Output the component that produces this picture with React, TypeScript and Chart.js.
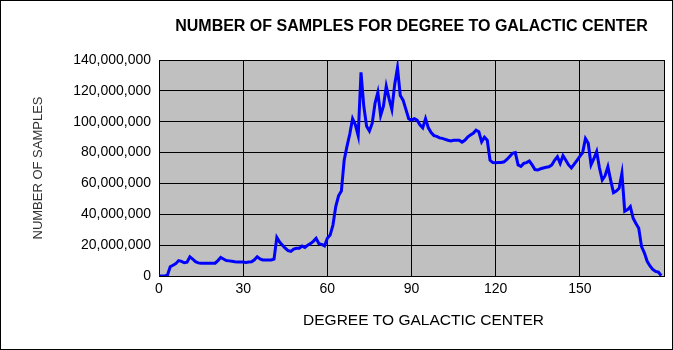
import React, { useEffect, useRef } from "react";
import { Chart, registerables } from "chart.js";

Chart.register(...registerables);

const chartTitle = "NUMBER OF SAMPLES FOR DEGREE TO GALACTIC CENTER";
const xAxisTitle = "DEGREE TO GALACTIC CENTER";
const yAxisTitle = "NUMBER OF SAMPLES";

const xTicks = [0, 30, 60, 90, 120, 150, 180];
const yTicks = [0, 20000000, 40000000, 60000000, 80000000, 100000000, 120000000, 140000000];

// Samples per degree (millions), degree 0..179
const samplesMillions = [
  0, 0, 0, 0.5, 6, 7, 8, 10, 9.5, 8.6,
  9, 12.5, 11, 9.3, 8.5, 8.2, 8.2, 8.2, 8.2, 8.2,
  8.3, 10, 12, 11, 10, 9.8, 9.5, 9.2, 9, 9,
  9, 8.8, 9, 9.2, 10.5, 12.5, 11, 10.4, 10.4, 10.4,
  10.4, 11, 25, 22, 20, 18, 16.4, 16, 17.5, 18,
  18, 19.4, 18.5, 20, 21, 22.5, 24.4, 21, 20.5, 19.5,
  24.5, 26.5, 33, 45, 52, 55, 75, 84, 92, 102,
  98, 91, 132, 110, 97, 94, 99, 112, 119, 104,
  110, 123, 115, 108, 124, 135, 117, 114, 108, 102,
  101, 102, 101, 98, 96, 102, 96, 93, 91, 90.5,
  89.5, 89.2, 88.6, 88, 87.5, 88, 88, 88, 86.8, 88,
  90, 91.4, 92.5, 94.5, 93.5, 87, 90, 88, 75, 73.5,
  73.4, 73.5, 73.6, 74, 75.5, 77.5, 79.5, 80, 72, 71,
  73, 73.5, 74.5, 72, 69, 68.7, 69.5, 70, 70.5, 70.8,
  72, 75, 77.3, 73, 78, 75, 72, 70, 72.5, 75,
  77.5, 80, 89, 86, 72, 76, 80.6, 70, 62.2, 65,
  70.8, 62, 54, 55, 56.8, 66.5, 42, 43, 45, 37.4,
  34, 31, 19, 15, 9.5, 6.5, 4.3, 3, 2.5, 0.2,
];

const degrees = samplesMillions.map((_, i) => i);

const FONT = "'Liberation Sans', Arial, sans-serif";

const frame = {
  id: "frame",
  beforeDraw(chart: any) {
    const { ctx, chartArea } = chart;
    ctx.save();
    ctx.fillStyle = "#ffffff";
    ctx.fillRect(0, 0, chart.width, chart.height);
    ctx.fillStyle = "#c0c0c0";
    ctx.fillRect(chartArea.left, chartArea.top, chartArea.right - chartArea.left, chartArea.bottom - chartArea.top);
    ctx.restore();
  },
  afterDraw(chart: any) {
    const { ctx, chartArea } = chart;
    ctx.save();
    // x axis title (slightly right of plot centre, as in the reference)
    ctx.fillStyle = "#000000";
    ctx.font = `15.5px ${FONT}`;
    ctx.textAlign = "center";
    ctx.textBaseline = "middle";
    ctx.fillText(xAxisTitle, (chartArea.left + chartArea.right) / 2 + 12, 321);
    ctx.strokeStyle = "#000000";
    ctx.lineWidth = 1;
    ctx.strokeRect(0.5, 0.5, chart.width - 1, chart.height - 1);
    ctx.restore();
  },
};

export default function App() {
  const ref = useRef<HTMLCanvasElement>(null);
  useEffect(() => {
    if (!ref.current) return;
    const chart = new Chart(ref.current, {
      type: "line",
      data: {
        datasets: [
          {
            data: degrees.map((d, i) => ({ x: d, y: samplesMillions[i] * 1000000 })),
            borderColor: "#0000ff",
            borderWidth: 3,
            pointRadius: 0,
            tension: 0,
            fill: false,
          },
        ],
      },
      options: {
        animation: false,
        responsive: false,
        maintainAspectRatio: false,
        layout: { padding: { left: 0, right: 9, top: 0, bottom: 0 } },
        plugins: {
          legend: { display: false },
          tooltip: { enabled: false },
          title: {
            display: true,
            text: chartTitle,
            fullSize: false,
            color: "#000000",
            font: { family: FONT, size: 16, weight: "bold" },
            padding: { top: 17, bottom: 23.8 },
          },
        },
        scales: {
          x: {
            type: "linear",
            min: xTicks[0],
            max: xTicks[xTicks.length - 1],
            afterBuildTicks: (scale: any) => {
              scale.ticks = xTicks.map((v) => ({ value: v }));
            },
            afterFit: (scale: any) => {
              scale.height = 74;
            },
            ticks: {
              color: "#000000",
              font: { family: FONT, size: 14 },
              padding: 5,
              maxRotation: 0,
              callback: (v: any) => (v === 180 ? "" : String(v)),
            },
            grid: { color: "#000000", lineWidth: 1, drawTicks: false },
            border: { color: "#000000", width: 1 },
            title: { display: false, text: xAxisTitle },
          },
          y: {
            type: "linear",
            min: yTicks[0],
            max: yTicks[yTicks.length - 1],
            afterBuildTicks: (scale: any) => {
              scale.ticks = yTicks.map((v) => ({ value: v }));
            },
            afterFit: (scale: any) => {
              scale.width = 159;
            },
            ticks: {
              color: "#000000",
              font: { family: FONT, size: 14 },
              padding: 8,
              callback: (v: any) => Number(v).toLocaleString("en-US"),
            },
            grid: { color: "#000000", lineWidth: 1, drawTicks: false },
            border: { color: "#000000", width: 1 },
            title: {
              display: true,
              text: yAxisTitle,
              color: "#333333",
              font: { family: FONT, size: 13 },
              padding: { top: 31, bottom: 0 },
            },
          },
        },
      },
      plugins: [frame],
    });
    return () => chart.destroy();
  }, []);
  return (
    <div style={{ position: "fixed", left: 0, top: 0, width: 673, height: 350, background: "#ffffff" }}>
      <canvas ref={ref} width={673} height={350} style={{ display: "block", width: 673, height: 350 }} />
    </div>
  );
}
